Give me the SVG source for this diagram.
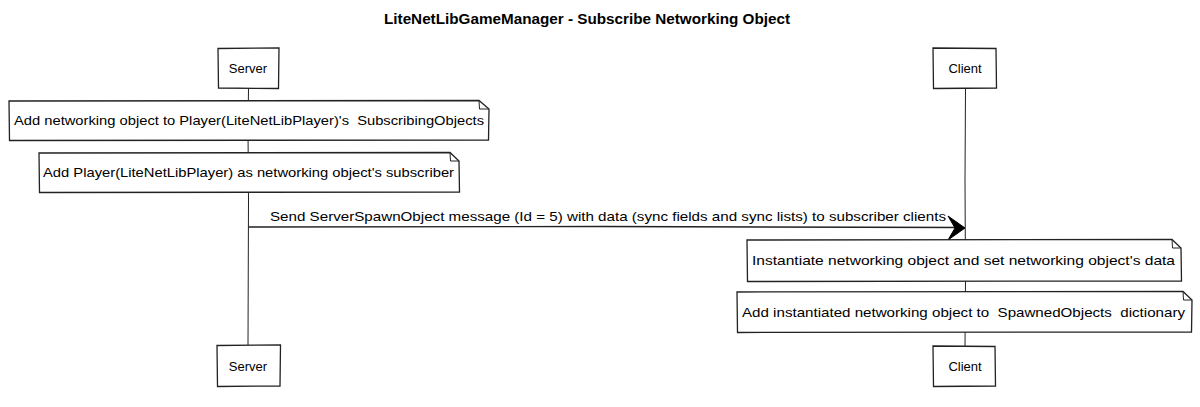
<svg xmlns="http://www.w3.org/2000/svg" width="1200" height="407" viewBox="0 0 1200 407">
<style>
  text { font-family: "Liberation Sans", "DejaVu Sans", sans-serif; font-size: 13px; fill: #000; white-space: pre; }
  .title { font-size: 14px; font-weight: bold; }
  .box { fill: #fff; stroke: #222; stroke-width: 1.3; }
  .life { fill: none; stroke: #222; stroke-width: 1; }
  .msg { fill: none; stroke: #222; stroke-width: 1.4; }
</style>
<rect width="1200" height="407" fill="#fff"/>
<text class="title" x="587" y="24" text-anchor="middle" textLength="406" lengthAdjust="spacingAndGlyphs">LiteNetLibGameManager - Subscribe Networking Object</text>

<g id="lifelines">
  <path class="life" d="M248.5,88 L248,130 L248.5,200 L248,345"/>
  <path class="life" d="M965.5,88 L965,180 L965.5,280 L965,346"/>
</g>

<g id="server-top">
  <path class="box" d="M218,48.5 L279,48 L278.5,88.5 L218.5,88 Z"/>
  <text x="248" y="73" text-anchor="middle">Server</text>
</g>
<g id="client-top">
  <path class="box" d="M933,48 L996,48.5 L996.5,88 L933.5,88.5 Z"/>
  <text x="965" y="73" text-anchor="middle">Client</text>
</g>

<g id="note1">
  <path class="box" d="M9,101 L479,100.5 L489,109 L488.5,140 L9.5,140.5 Z"/>
  <path class="life" d="M479,100.5 L479.5,109 L489,109"/>
  <text x="14" y="125" xml:space="preserve" textLength="470" lengthAdjust="spacingAndGlyphs">Add networking object to Player(LiteNetLibPlayer)'s  SubscribingObjects</text>
</g>
<g id="note2">
  <path class="box" d="M39,153 L450,152.5 L459,161 L459.5,192 L39.5,192.5 Z"/>
  <path class="life" d="M450,152.5 L450.5,161 L459,161"/>
  <text x="43" y="177" textLength="411" lengthAdjust="spacingAndGlyphs">Add Player(LiteNetLibPlayer) as networking object's subscriber</text>
</g>

<g id="connectors">
  <path class="msg" d="M248.5,227 L600,226.5 L962,227.5"/>
  <polygon points="965,228 948,216 955,228 948,240" fill="#000" stroke="#000" stroke-width="1" stroke-linejoin="round"/>
  <text x="270" y="221" textLength="676" lengthAdjust="spacingAndGlyphs">Send ServerSpawnObject message (Id = 5) with data (sync fields and sync lists) to subscriber clients</text>
</g>

<g id="note3">
  <path class="box" d="M747,240 L1172,239.5 L1181,248 L1181.5,281 L747.5,281.5 Z"/>
  <path class="life" d="M1172,239.5 L1172.5,248 L1181,248"/>
  <text x="752" y="265" textLength="423" lengthAdjust="spacingAndGlyphs">Instantiate networking object and set networking object's data</text>
</g>
<g id="note4">
  <path class="box" d="M737,292 L1183,291.5 L1192,300 L1191.5,332 L737.5,332.5 Z"/>
  <path class="life" d="M1183,291.5 L1183.5,300 L1192,300"/>
  <text x="742" y="317" xml:space="preserve" textLength="443" lengthAdjust="spacingAndGlyphs">Add instantiated networking object to  SpawnedObjects  dictionary</text>
</g>

<g id="server-bottom">
  <path class="box" d="M217,345.5 L280.5,345 L280,386 L217.5,386.5 Z"/>
  <text x="248" y="371" text-anchor="middle">Server</text>
</g>
<g id="client-bottom">
  <path class="box" d="M933,346 L995,346.5 L995.5,386 L933.5,386.5 Z"/>
  <text x="965" y="371" text-anchor="middle">Client</text>
</g>
</svg>
